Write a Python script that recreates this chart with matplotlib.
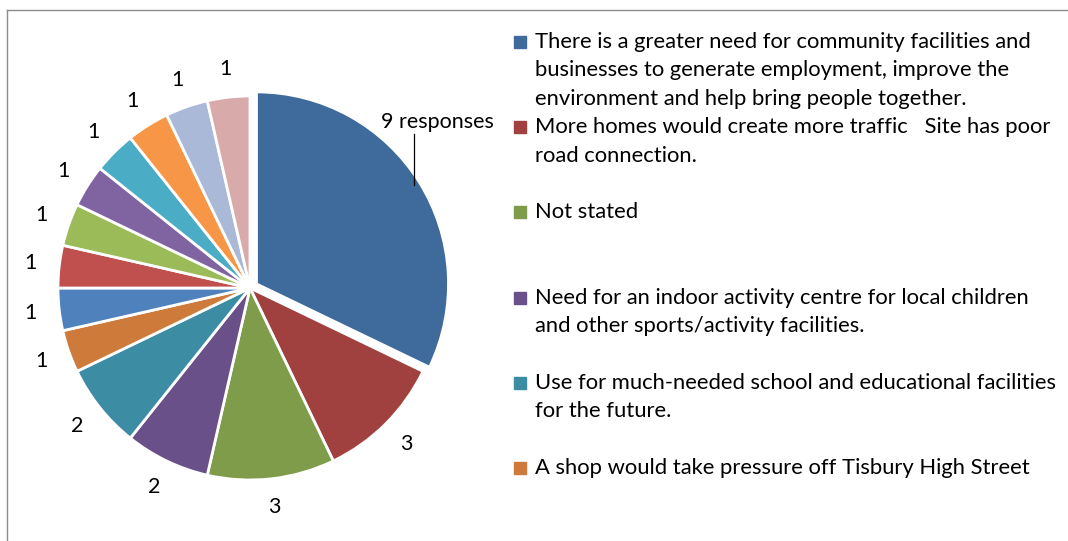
import numpy as np
import matplotlib
matplotlib.use('Agg')
import matplotlib.pyplot as plt
from matplotlib.lines import Line2D

# responses per reason, clockwise from the top
values = [9, 3, 3, 2, 2, 1, 1, 1, 1, 1, 1, 1, 1, 1]
labels = ['9 responses'] + [str(v) for v in values[1:]]
colors = ['#3F6A9C', '#A0413F', '#7F9C4A', '#6A5088', '#3C8CA3', '#CD7A3A',
          '#4F81BD', '#C0504D', '#9BBB59', '#8064A2', '#4BACC6', '#F79646',
          '#AAB9D7', '#D9AAAA']

# only the first six legend entries are visible in the chart
legend_labels = [
    ['There is a greater need for community facilities and',
     'businesses to generate employment, improve the',
     'environment and help bring people together.'],
    ['More homes would create more traffic   Site has poor',
     'road connection.'],
    ['Not stated'],
    ['Need for an indoor activity centre for local children',
     'and other sports/activity facilities.'],
    ['Use for much-needed school and educational facilities',
     'for the future.'],
    ['A shop would take pressure off Tisbury High Street'],
]

W, H = 1068, 541
plt.rcParams['font.family'] = ['Lato', 'DejaVu Sans']
fig = plt.figure(figsize=(W / 100, H / 100), dpi=100)

# pie axes: centre (250, 288) px, radius 192 px
R = 192.0
half = 200.0
ax = fig.add_axes([(250 - half) / W, (H - 288 - half) / H, 2 * half / W, 2 * half / H])

explode = [0.04] + [0] * (len(values) - 1)
wedges, texts = ax.pie(values, colors=colors, startangle=90, counterclock=False,
                       explode=explode, labels=labels, labeldistance=1.15,
                       wedgeprops=dict(edgecolor='white', linewidth=2),
                       textprops=dict(fontsize=15.5, color='black'))
ax.set_xlim(-half / R, half / R)
ax.set_ylim(-half / R, half / R)
ax.set_aspect('equal')
ax.axis('off')
for t in texts:
    t.set_ha('center')
    t.set_va('center')

# first label sits outside top-right with a leader line
w0 = wedges[0]
mid = np.deg2rad((w0.theta1 + w0.theta2) / 2)
cx, cy = w0.center
lx = cx + 0.97 * np.cos(mid)
ly = cy + 0.97 * np.sin(mid)
ax.plot([lx, lx], [ly, 0.80], color='black', lw=0.9)
texts[0].set_position((0.975, 0.865))

# legend drawn by hand
top = 42
step = 85.2
pitch = 28.5
for i, lines in enumerate(legend_labels):
    y0 = top + i * step
    fig.patches.append(plt.Rectangle((514 / W, (H - y0 - 6) / H), 12 / W, 12 / H,
                                     transform=fig.transFigure, color=colors[i]))
    for j, line in enumerate(lines):
        fig.text(535 / W, (H - y0 - j * pitch) / H, line, fontsize=15.8,
                 ha='left', va='center', color='black')

# chart border
fig.add_artist(Line2D([7 / W, 1], [(H - 10) / H, (H - 10) / H], color='#8C8C8C', lw=1))
fig.add_artist(Line2D([7 / W, 7 / W], [0, (H - 10) / H], color='#8C8C8C', lw=1))

fig.savefig('out.png', dpi=100, facecolor='white')
